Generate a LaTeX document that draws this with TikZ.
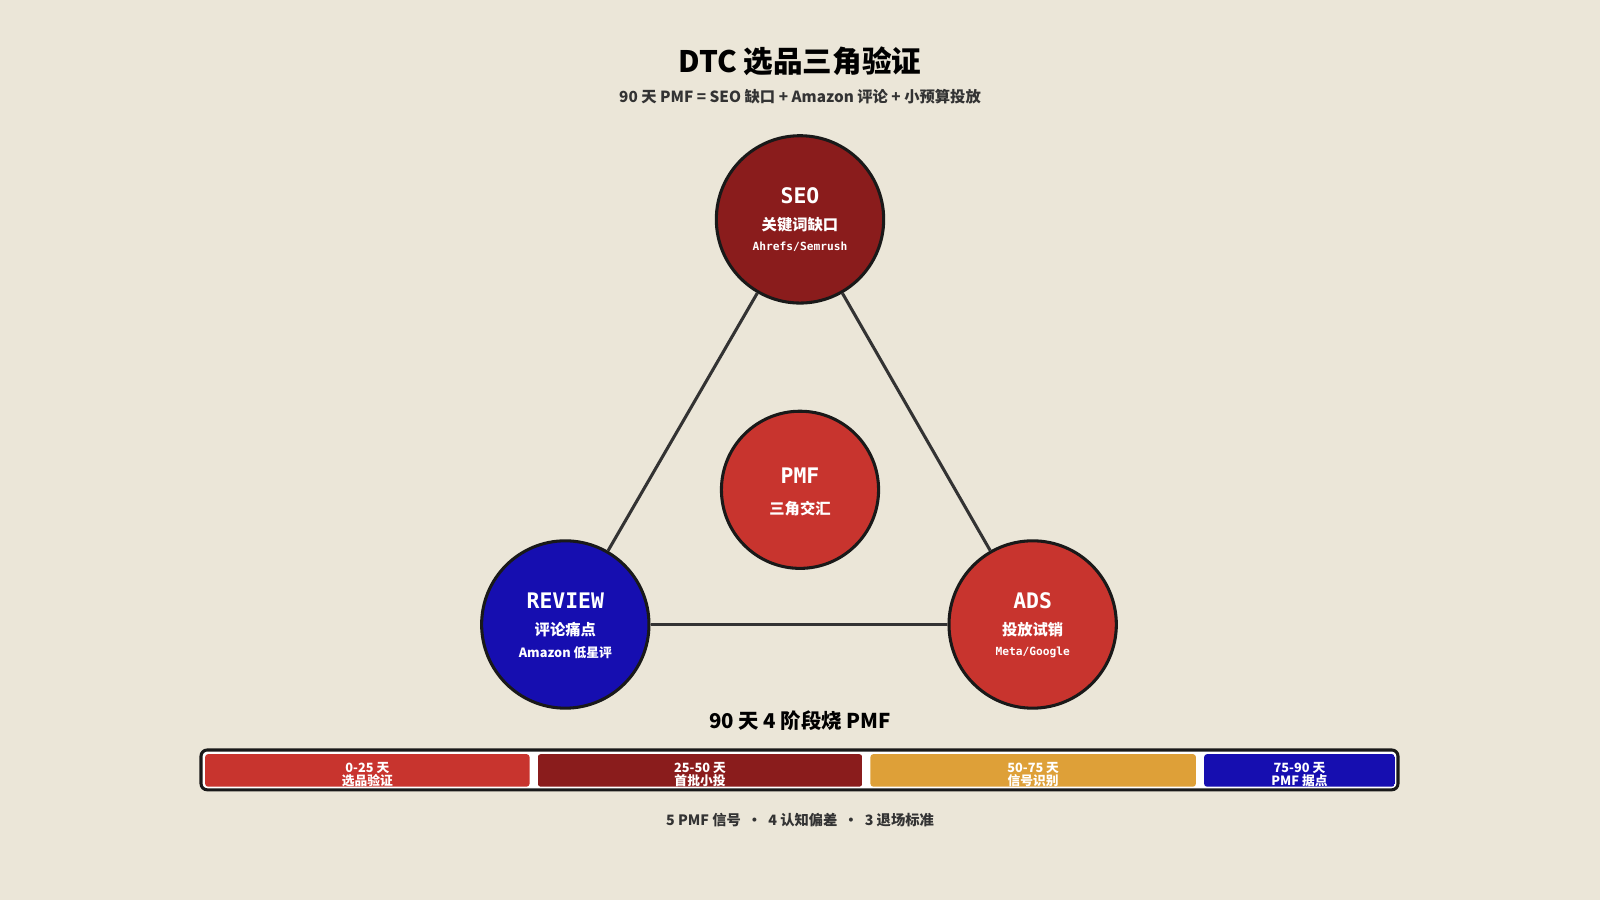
\documentclass[tikz,border=0pt]{standalone}
\usepackage{fontspec}
\setmainfont{Noto Sans CJK SC}
\newfontfamily\monof{DejaVu Sans Mono}
\begin{document}
\begin{tikzpicture}[x=1pt,y=-1pt,
  circ/.style={circle,draw=black!90,line width=3pt,minimum size=#1,inner sep=0pt},
  edge/.style={draw=black!80,line width=3pt},
  ttl/.style={font=\monof\bfseries\fontsize{21}{24}\selectfont,text=white},
  sub/.style={font=\bfseries\fontsize{15}{18}\selectfont,text=white},
  sm/.style={font=\fontsize{11}{13}\selectfont,text=white},
  seg/.style={rounded corners=3pt},
  segt/.style={font=\bfseries\fontsize{12.5}{16}\selectfont,text=white,align=center}]
\fill[fill={rgb,255:red,235;green,230;blue,216}] (0,0) rectangle (1568,882);
\useasboundingbox (0,0) rectangle (1568,882);
\definecolor{dred}{RGB}{138,28,28}
\definecolor{mred}{RGB}{200,52,46}
\definecolor{blu}{RGB}{22,14,176}
\definecolor{gold}{RGB}{222,160,56}
\node (title) at (784,60) {\bfseries\fontsize{29}{34}\selectfont DTC 选品三角验证};
\node[text=black!80] (subt) at (784,95) {\bfseries\fontsize{15}{18}\selectfont 90 天 PMF = SEO 缺口 + Amazon 评论 + 小预算投放};
\node[circ=164pt,fill=dred] (seo) at (784,215) {};
\node[circ=154pt,fill=mred] (pmf) at (784,480) {};
\node[circ=164pt,fill=blu] (rev) at (554,612) {};
\node[circ=164pt,fill=mred] (ads) at (1012,612) {};
\begin{scope}[on background layer/.style={}]
\end{scope}
\path[edge] (seo) -- (rev);
\path[edge] (seo) -- (ads);
\path[edge] (rev) -- (ads);
\node[ttl] (seot) at (784,192) {SEO};
\node[sub] (seos) at (784,220) {关键词缺口};
\node[sm,font=\monof\bfseries\fontsize{11}{13}\selectfont] (seom) at (784,242) {Ahrefs/Semrush};
\node[ttl] (pmft) at (784,466) {PMF};
\node[sub] (pmfs) at (784,498) {三角交汇};
\node[ttl] (revt) at (554,589) {REVIEW};
\node[sub] (revs) at (554,617) {评论痛点};
\node[sm,font=\bfseries\fontsize{12.5}{15}\selectfont] (revm) at (554,640) {Amazon 低星评};
\node[ttl] (adst) at (1012,589) {ADS};
\node[sub] (adss) at (1012,617) {投放试销};
\node[sm,font=\monof\bfseries\fontsize{11}{13}\selectfont] (adsm) at (1012,639) {Meta/Google};
\node (bart) at (784,706) {\bfseries\fontsize{20}{24}\selectfont 90 天 4 阶段烧 PMF};
\draw[line width=3pt,draw=black!90,fill=white,rounded corners=6pt] (197,735) rectangle (1370,774);
\foreach \a/\b/\c/\t/\s [count=\i] in {201/519/mred/0-25 天/选品验证,527/845/dred/25-50 天/首批小投,853/1172/gold/50-75 天/信号识别,1180/1367/blu/75-90 天/PMF 据点}{
  \begin{scope}
  \clip[seg] (\a,739) rectangle (\b,771);
  \fill[\c] (\a,739) rectangle (\b,771);
  \node[segt] (s\i) at ({(\a+\b)/2},759) {\t\\[-3pt]\s};
  \end{scope}
}
\node[text=black!80] (foot) at (784,804) {\bfseries\fontsize{14}{17}\selectfont 5 PMF 信号 \ • \ 4 认知偏差 \ • \ 3 退场标准};
\end{tikzpicture}
\end{document}
